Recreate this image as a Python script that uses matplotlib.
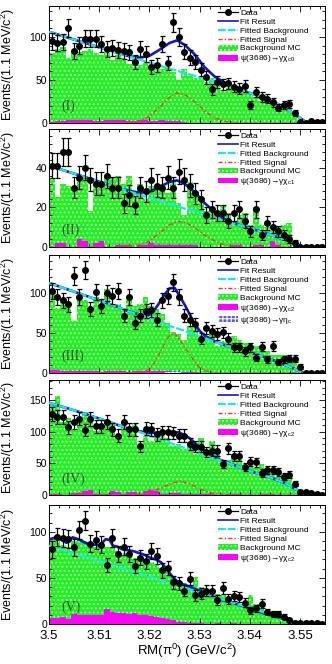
import numpy as np
import matplotlib
matplotlib.use('Agg')
import matplotlib.pyplot as plt
from matplotlib.lines import Line2D
from matplotlib.patches import Patch
from matplotlib.ticker import MultipleLocator, AutoMinorLocator

plt.rcParams['font.family'] = ['Liberation Sans', 'DejaVu Sans']
plt.rcParams['mathtext.default'] = 'regular'
plt.rcParams['hatch.linewidth'] = 0.8

# 50 bins of 1.1 MeV between 3.500 and 3.555 GeV
bin_edges = np.linspace(3.5, 3.555, 51)
bin_centers = 0.5 * (bin_edges[:-1] + bin_edges[1:])
bin_width = bin_edges[1] - bin_edges[0]

# ---------------- panel (I) ----------------
data_1 = [95, 93, 94, 110, 84, 90, 98, 98, 98, 92, 86, 87, 85, 84, 82, 71, 86, 80, 65, 67,
          92, 70, 117, 100, 83, 76, 71, 62, 53, 39, 48, 45, 46, 42, 40, 43, 21, 36, 30, 28,
          24, 18, 21, 22, 12, 1, 0, 2, 1, 1]
bkgmc_1 = [81, 86, 88, 75, 81, 83, 84, 86, 81, 79, 81, 73, 79, 75, 69, 75, 67, 71, 65, 67,
           63, 65, 59, 50, 63, 55, 52, 53, 48, 52, 46, 38, 44, 38, 40, 36, 34, 30, 26, 28,
           24, 21, 21, 19, 13, 1, 0, 0, 0, 0]
peak_1 = [1, 2, 2, 3, 3, 4, 4, 3, 2, 2, 3, 3, 4, 3, 2, 2, 3, 3, 2, 2,
          3, 2, 2, 2, 1, 0, 0, 0, 0, 0, 0, 0, 0, 0, 0, 0, 0, 0, 0, 0,
          0, 0, 0, 0, 0, 0, 0, 0, 0, 0]
fit_x_1 = [3.500, 3.505, 3.510, 3.514, 3.516, 3.518, 3.520, 3.522, 3.524, 3.5255, 3.527,
           3.529, 3.531, 3.533, 3.535, 3.538, 3.542, 3.546, 3.549, 3.5505, 3.5515, 3.555]
bkg_1 = [106, 97, 88, 81, 77, 74, 70, 67, 63, 61, 58, 55, 51, 48, 45, 39, 31, 21, 10, 4, 0, 0]
sig_1 = [0, 0, 0, 0, 0.5, 2, 8, 18, 30, 35, 33, 25, 14, 6, 2, 0, 0, 0, 0, 0, 0, 0]

# ---------------- panel (II) ----------------
data_2 = [41, 41, 48, 48, 30, 35, 40, 34, 32, 32, 36, 30, 30, 22, 26, 21, 30, 28, 34, 31,
          30, 35, 30, 38, 34, 31, 27, 24, 16, 19, 17, 17, 13, 17, 19, 13, 8, 19, 6, 12,
          10, 8, 6, 4, 2, 0, 0, 0, 0, 0]
bkgmc_2 = [35, 25, 32, 31, 30, 33, 35, 18, 33, 32, 36, 35, 36, 32, 36, 28, 32, 24, 31, 31,
           32, 27, 34, 22, 16, 33, 27, 22, 18, 19, 16, 21, 17, 13, 16, 17, 11, 20, 11, 10,
           8, 10, 11, 12, 0, 0, 0, 0, 0, 0]
peak_2 = [0, 2, 2, 0, 0, 4, 3, 0, 2, 3, 0, 0, 1, 1, 1, 0, 1, 1, 2, 1,
          1, 1, 1, 1, 1, 1, 1, 0, 0, 0, 0, 0, 0, 1, 1, 0, 0, 1, 1, 0,
          3, 1, 0, 0, 0, 0, 0, 0, 0, 0]
fit_x_2 = [3.500, 3.505, 3.510, 3.514, 3.516, 3.518, 3.520, 3.522, 3.524, 3.5255, 3.527,
           3.529, 3.531, 3.533, 3.535, 3.538, 3.542, 3.546, 3.549, 3.5505, 3.5515, 3.555]
bkg_2 = [41, 37, 33, 29.6, 28, 26.4, 24.8, 23.2, 21.8, 20.6, 19.4, 17.8, 16.2, 14.6, 13,
         11, 8, 4.5, 2, 0.3, 0, 0]
sig_2 = [0, 0, 0, 0, 0.3, 1, 3, 7, 11, 13, 12.5, 10, 6, 3, 1, 0, 0, 0, 0, 0, 0, 0]

# ---------------- panel (III) ----------------
data_3 = [103, 95, 91, 86, 122, 95, 129, 80, 101, 84, 100, 97, 103, 72, 95, 63, 72, 78, 79, 67,
          91, 97, 114, 95, 72, 67, 61, 43, 57, 53, 49, 51, 43, 32, 32, 27, 32, 19, 33, 17,
          34, 14, 17, 18, 18, 8, 0, 0, 0, 0]
bkgmc_3 = [101, 82, 91, 84, 65, 95, 91, 78, 95, 84, 105, 86, 86, 78, 91, 84, 86, 95, 84, 80,
           74, 63, 51, 49, 42, 59, 57, 42, 46, 55, 34, 40, 40, 46, 42, 38, 38, 34, 32, 27,
           23, 23, 23, 23, 15, 8, 0, 0, 0, 0]
peak_3 = [4, 4, 2, 3, 3, 3, 3, 2, 2, 1, 2, 2, 3, 3, 1, 2, 2, 2, 2, 2,
          3, 2, 1, 1, 1, 1, 1, 0, 0, 0, 0, 0, 0, 0, 0, 0, 0, 0, 0, 0,
          0, 0, 0, 0, 0, 0, 0, 0, 0, 0]
etac_3 = [0, 0, 0, 0, 0, 0, 0, 0, 0, 0, 0, 0, 0, 0, 0, 0, 0, 0, 0, 0,
          0, 1.5, 3, 2, 0, 0, 0, 0, 0, 0, 0, 0, 0, 0, 0, 0, 0, 0, 0, 0,
          0, 0, 0, 0, 0, 0, 0, 0, 0, 0]
fit_x_3 = [3.500, 3.505, 3.510, 3.514, 3.516, 3.518, 3.519, 3.520, 3.521, 3.522, 3.523, 3.524,
           3.525, 3.526, 3.527, 3.528, 3.529, 3.530, 3.531, 3.533, 3.535, 3.538, 3.542, 3.546,
           3.549, 3.5505, 3.5515, 3.555]
bkg_3 = [113, 102, 91, 82, 77, 73, 71, 68, 66, 64, 62, 59, 57, 55, 53, 50, 48, 46, 44, 39,
         35, 30, 22, 13, 5, 0.5, 0, 0]
sig_3 = [0, 0, 0, 0, 0, 0.5, 1.5, 5, 13, 24, 36, 47, 50, 42, 33, 24, 14, 7, 3, 0.5,
         0, 0, 0, 0, 0, 0, 0, 0]

# ---------------- panel (IV) ----------------
data_4 = [128, 124, 124, 107, 116, 121, 103, 120, 109, 109, 116, 104, 94, 116, 104, 104, 77, 105, 104, 96,
          99, 99, 98, 94, 94, 81, 76, 76, 68, 70, 70, 49, 74, 62, 62, 44, 53, 52, 35, 39,
          39, 36, 29, 32, 18, 5, 4, 3, 2, 0]
bkgmc_4 = [143, 157, 115, 122, 104, 122, 131, 125, 102, 109, 115, 115, 94, 117, 107, 114, 76, 94, 86, 94,
           94, 91, 78, 81, 73, 83, 65, 91, 68, 86, 73, 52, 55, 60, 55, 47, 44, 42, 49, 39,
           35, 29, 34, 29, 18, 5, 0, 0, 0, 0]
peak_4 = [2, 1, 0, 0, 3, 3, 7, 8, 2, 1, 1, 6, 5, 2, 5, 5, 1, 6, 8, 6,
          1, 1, 3, 3, 1, 2, 2, 1, 1, 1, 0, 0, 1, 1, 1, 0, 0, 0, 1, 1,
          1, 0, 0, 0, 0, 0, 0, 0, 0, 0]
fit_x_4 = [3.500, 3.505, 3.510, 3.514, 3.516, 3.518, 3.520, 3.522, 3.524, 3.526, 3.528,
           3.530, 3.532, 3.534, 3.537, 3.540, 3.544, 3.547, 3.549, 3.5505, 3.5515, 3.555]
bkg_4 = [146, 134, 121, 110, 105, 100, 94, 89, 83, 77, 72, 66, 60, 55, 47, 38, 28, 19, 10, 3, 0, 0]
sig_4 = [0, 0, 0, 0, 0, 1, 4, 10, 17, 22, 18, 10, 4, 1, 0, 0, 0, 0, 0, 0, 0, 0]

# ---------------- panel (V) ----------------
data_5 = [81, 94, 93, 92, 83, 102, 112, 87, 91, 86, 64, 93, 76, 84, 76, 63, 72, 68, 79, 74,
          58, 61, 45, 44, 36, 49, 31, 33, 36, 36, 26, 39, 27, 30, 29, 23, 15, 17, 22, 13,
          11, 11, 8, 4, 1, 1, 1, 1, 1, 0]
bkgmc_5 = [92, 90, 86, 83, 90, 92, 90, 86, 83, 86, 83, 83, 79, 77, 77, 72, 74, 70, 67, 65,
           61, 58, 52, 45, 44, 42, 51, 40, 38, 31, 33, 31, 27, 22, 20, 23, 31, 22, 17, 11,
           11, 7, 7, 4, 2, 0, 0, 0, 0, 0]
peak_5 = [6, 7, 8, 5, 11, 10, 10, 10, 10, 10, 16, 13, 12, 12, 11, 12, 10, 10, 9, 8,
          7, 5, 4, 2, 2, 1, 1, 1, 0, 0, 1, 0, 0, 1, 0, 0, 0, 0, 0, 0,
          0, 0, 0, 0, 0, 0, 0, 0, 0, 0]
fit_x_5 = [3.5002, 3.5014, 3.5025, 3.5035, 3.5047, 3.5058, 3.5069, 3.5080, 3.5091, 3.5101,
           3.5113, 3.5121, 3.5127, 3.5135, 3.5146, 3.5157, 3.5168, 3.5179, 3.5190, 3.5201,
           3.5212, 3.5223, 3.5234, 3.5245, 3.5256, 3.5267, 3.5278, 3.5300, 3.5322, 3.5344,
           3.5366, 3.5388, 3.5410, 3.5432, 3.5454, 3.5476, 3.5496, 3.5505, 3.555]
fit_5 = [92, 94, 91, 88, 94, 92, 89, 86, 86, 85, 92, 91, 85, 84, 81, 80, 79, 77, 75, 72,
         70, 67, 60, 52, 46, 43, 41, 36, 31, 26, 23, 19, 15, 11, 8, 4, 1, 0, 0]
bkg_x_5 = [3.500, 3.510, 3.520, 3.530, 3.540, 3.545, 3.5505, 3.555]
bkg_5 = [85, 68, 51, 34, 17.5, 9, 0, 0]
sig_x_5 = [3.500, 3.555]
sig_5 = [0, 0]

labels = ['(I)', '(II)', '(III)', '(IV)', '(V)']
peak_names = ['ψ(3686)→γχ$_{c0}$', 'ψ(3686)→γχ$_{c1}$', 'ψ(3686)→γχ$_{c2}$',
              'ψ(3686)→γχ$_{c2}$', 'ψ(3686)→γχ$_{c2}$']
ymax = [136, 59.5, 148, 182, 129]
ystep = [50, 20, 50, 50, 50]

panels = [
    dict(data=data_1, mc=bkgmc_1, peak=peak_1, fx=fit_x_1, fit=np.add(bkg_1, sig_1),
         bx=fit_x_1, bkg=bkg_1, sx=fit_x_1, sig=sig_1),
    dict(data=data_2, mc=bkgmc_2, peak=peak_2, fx=fit_x_2, fit=np.add(bkg_2, sig_2),
         bx=fit_x_2, bkg=bkg_2, sx=fit_x_2, sig=sig_2),
    dict(data=data_3, mc=bkgmc_3, peak=peak_3, fx=fit_x_3, fit=np.add(bkg_3, sig_3),
         bx=fit_x_3, bkg=bkg_3, sx=fit_x_3, sig=sig_3, etac=etac_3),
    dict(data=data_4, mc=bkgmc_4, peak=peak_4, fx=fit_x_4, fit=np.add(bkg_4, sig_4),
         bx=fit_x_4, bkg=bkg_4, sx=fit_x_4, sig=sig_4),
    dict(data=data_5, mc=bkgmc_5, peak=peak_5, fx=fit_x_5, fit=fit_5,
         bx=bkg_x_5, bkg=bkg_5, sx=sig_x_5, sig=sig_5),
]

# axes rectangles (pixel rows of the original figure)
rows = [(6, 123), (129, 247), (255, 373), (380, 495), (505, 624)]

fig = plt.figure(figsize=(3.32, 6.64), dpi=100)

green = '#22f022'
green_hatch = '#b8ffb8'
magenta = '#ff00ff'
blue = '#1414d8'
cyan = '#19e6f0'
red = '#ff3030'

for i, p in enumerate(panels):
    top, bot = rows[i]
    ax = fig.add_axes([49 / 332, 1 - bot / 664, 276 / 332, (bot - top) / 664])

    ax.bar(bin_centers, p['mc'], width=bin_width, color=green, edgecolor=green_hatch,
           hatch='....', linewidth=0, zorder=1)
    ax.bar(bin_centers, p['peak'], width=bin_width, color=magenta, linewidth=0, zorder=2)
    if 'etac' in p:
        ax.bar(bin_centers, p['etac'], width=bin_width, color='#5a5aff', edgecolor='white',
               hatch='++++', linewidth=0, zorder=2)

    ax.plot(p['fx'], p['fit'], color=blue, lw=1.9, zorder=3)
    ax.plot(p['bx'], p['bkg'], color=cyan, lw=1.7, dashes=(3.5, 0.9), zorder=4)
    ax.plot(p['sx'], p['sig'], color=red, lw=1.0, dashes=(3, 1.5, 1, 1.5), zorder=4)

    d = np.array(p['data'], dtype=float)
    ax.errorbar(bin_centers, d, yerr=np.sqrt(d), fmt='o', color='black', ms=4.0,
                elinewidth=0.9, capsize=1.8, capthick=0.9, zorder=5)

    ax.set_xlim(3.5, 3.555)
    ax.set_ylim(0, ymax[i])
    ax.xaxis.set_major_locator(MultipleLocator(0.01))
    ax.xaxis.set_minor_locator(MultipleLocator(0.002))
    ax.yaxis.set_major_locator(MultipleLocator(ystep[i]))
    ax.yaxis.set_minor_locator(AutoMinorLocator(5))
    ax.tick_params(which='both', direction='in', top=True, right=True, width=0.6)
    ax.tick_params(which='major', length=4.5)
    ax.tick_params(which='minor', length=2.3)
    ax.tick_params(axis='y', labelsize=7.5, pad=1.5)
    ax.tick_params(axis='x', labelsize=9.5, pad=4)
    for s in ax.spines.values():
        s.set_linewidth(0.7)

    if i < 4:
        ax.set_xticklabels([])
    else:
        ax.set_xticks([3.5, 3.51, 3.52, 3.53, 3.54, 3.55])
        ax.set_xticklabels(['3.5', '3.51', '3.52', '3.53', '3.54', '3.55'])
        ax.set_xlabel('RM(π$^0$) (GeV/c$^2$)', fontsize=9.5, labelpad=0)

    ax.set_ylabel('Events/(1.1 MeV/c$^2$)', fontsize=9)
    ax.yaxis.set_label_coords(-0.115, 0.5)

    ax.text(0.045, 0.11, labels[i], transform=ax.transAxes, fontsize=10,
            family=['Liberation Serif', 'DejaVu Serif'], color='#3a4a3a', zorder=6)

    handles = [
        Line2D([0], [0], color='black', marker='o', ms=4, lw=0.9),
        Line2D([0], [0], color=blue, lw=1.2),
        Line2D([0], [0], color=cyan, lw=1.6, dashes=(3.5, 0.9)),
        Line2D([0], [0], color=red, lw=1.0, dashes=(3, 1.5, 1, 1.5)),
        Patch(facecolor=green, edgecolor=green_hatch, hatch='....', linewidth=0),
        Patch(facecolor=magenta, linewidth=0),
    ]
    names = ['Data', 'Fit Result', 'Fitted Background', 'Fitted Signal',
             'Background MC', peak_names[i]]
    if 'etac' in p:
        handles.append(Patch(facecolor='#5a5aff', edgecolor='white', hatch='++++', linewidth=0))
        names.append('ψ(3686)→γη$_c$')
    ax.legend(handles, names, loc='upper left', bbox_to_anchor=(0.6, 1.0), frameon=False,
              fontsize=6, handlelength=2.4, handletextpad=0.3, labelspacing=0.12,
              borderaxespad=0.2, borderpad=0.2)

fig.savefig('out.png', dpi=100)
